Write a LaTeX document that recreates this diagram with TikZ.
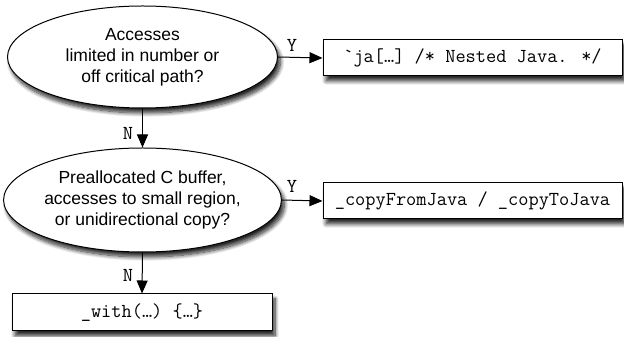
\documentclass[tikz,border=0pt]{standalone}
\usepackage{fontspec}
\setmainfont{Liberation Sans}
\setsansfont{Liberation Sans}
\usetikzlibrary{shapes.geometric,arrows.meta,shadows.blur}
\begin{document}
\begin{tikzpicture}[x=1pt,y=1pt,
  every node/.style={font=\fontsize{17.5}{21}\selectfont},
  shadowed/.style={blur shadow={shadow xshift=3pt,shadow yshift=-5pt,shadow blur radius=4pt,shadow blur steps=10,shadow opacity=85}},
  decision/.style={ellipse,draw,line width=1pt,fill=white,minimum width=270pt,minimum height=102pt,inner sep=0pt,align=center,shadowed},
  codebox/.style={rectangle,draw,line width=1pt,fill=white,minimum height=36pt,inner sep=0pt,font=\ttfamily\fontsize{19.8}{22}\selectfont,shadowed},
  conn/.style={line width=1pt,-{Triangle[length=13pt,width=11pt]}},
  lbl/.style={font=\ttfamily\fontsize{19.8}{22}\selectfont,inner sep=0pt}]
\useasboundingbox (0,0) rectangle (624,337);
\node[decision] (e1) at (142.5,280) {Accesses\\limited in number or\\off critical path?};
\node[decision,minimum height=104pt] (e2) at (142.5,137) {Preallocated C buffer,\\accesses to small region,\\or unidirectional copy?};
\node[codebox,minimum width=299pt] (b1) at (472.5,279) {\textasciigrave ja[…] /* Nested Java. */};
\node[codebox,minimum width=299pt] (b2) at (472.5,136) {\_copyFromJava / \_copyToJava};
\node[codebox,minimum width=260pt,minimum height=37pt] (b3) at (142,24.5) {\_with(…) \{…\}};
\draw[conn] (e1.east) -- (b1.west);
\draw[conn] (e1.south) -- (e2.north);
\draw[conn] (e2.east) -- (b2.west);
\draw[conn] (e2.south) -- (b3.north);
\node[lbl] (y1) at (292,292) {Y};
\node[lbl] (n1) at (128,204) {N};
\node[lbl] (y2) at (292,151) {Y};
\node[lbl] (n2) at (128,62) {N};
\end{tikzpicture}
\end{document}
